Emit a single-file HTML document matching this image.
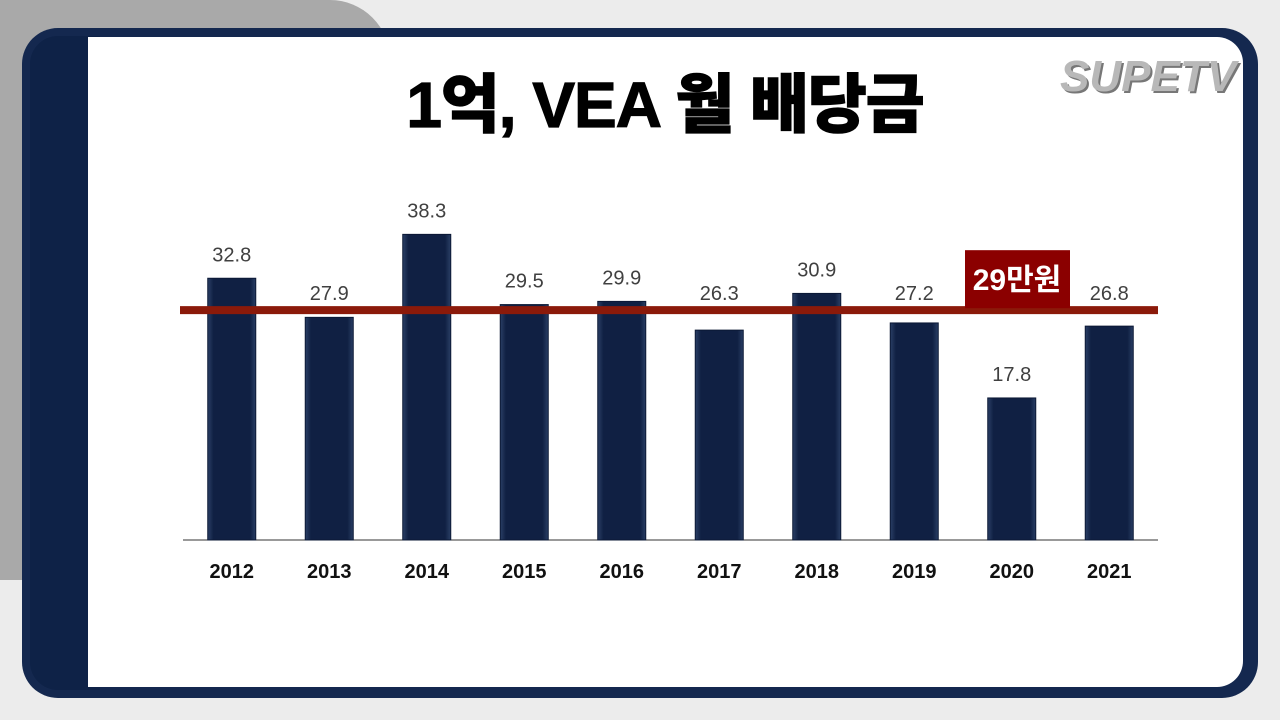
<!DOCTYPE html>
<html><head><meta charset="utf-8"><style>
body{margin:0;width:1280px;height:720px;overflow:hidden;background:#ececec;font-family:"Liberation Sans","Noto Sans CJK KR",sans-serif;position:relative}
.bgshape{position:absolute;left:0;top:0;width:390px;height:580px;background:#a9a9a9;border-top-right-radius:60px}
.card{position:absolute;left:22px;top:28px;width:1236px;height:670px;background:#14284f;border-radius:36px}
.strip{position:absolute;left:30px;top:36px;width:70px;height:654px;background:#0e2247;border-radius:28px 0 0 28px}
.inner{position:absolute;left:88px;top:37px;width:1155px;height:650px;background:#fff;border-radius:0 26px 26px 0}
.title{position:absolute;left:0;width:1280px;top:54px;text-align:center;font-size:64px;font-weight:900;color:#000;padding-left:50px;box-sizing:border-box;letter-spacing:-1px;-webkit-text-stroke:1.2px #000}
.logo{position:absolute;left:1060px;top:52px;font-size:44px;font-weight:bold;font-style:italic;color:#b8b8b8;text-shadow:2px 2px 0 #777}
</style></head><body>
<div class="bgshape"></div>
<div class="card"></div>
<div class="strip"></div>
<div class="inner"></div>
<div class="title">1억, VEA 월 배당금</div>
<div class="logo">SUPETV</div>
<svg id="chart" width="1280" height="720" style="position:absolute;left:0;top:0"></svg>
<script>
const categories=["2012","2013","2014","2015","2016","2017","2018","2019","2020","2021"];
const values=[32.8,27.9,38.3,29.5,29.9,26.3,30.9,27.2,17.8,26.8];
const refValue=28.8;
const refLabel="29만원";
const svg=document.getElementById('chart');
const NS="http://www.w3.org/2000/svg";
const x0=183,x1=1158,base=540,scale=7.98;
const step=(x1-x0)/categories.length;
const xc=i=>x0+step*(i+0.5);
const y=v=>base-v*scale;
const ry=y(refValue);
function mk(t,a){const e=document.createElementNS(NS,t);for(const k in a)e.setAttribute(k,a[k]);svg.appendChild(e);return e;}
const defs=mk('defs',{});
defs.innerHTML='<linearGradient id="bg" x1="0" x2="1"><stop offset="0" stop-color="#2a3f66"/><stop offset="0.12" stop-color="#102043"/><stop offset="0.88" stop-color="#102043"/><stop offset="1" stop-color="#2a3f66"/></linearGradient>';
const ax=mk('line',{x1:x0,x2:x1,y1:base,y2:base,stroke:'#333','stroke-width':1});


categories.forEach((c,i)=>{
  const r=mk('rect',{x:xc(i)-24,y:y(values[i]),width:48,height:values[i]*scale,fill:'url(#bg)',stroke:'#0b1835','stroke-width':1});
  
  
  let ly=y(values[i])-17;
  if(ly>ry-10&&ly<ry+35)ly=ry-10;
  const v=mk('text',{x:xc(i),y:ly,'text-anchor':'middle','font-size':20,fill:'#404040'});
  v.textContent=values[i].toFixed(1);
  
  
  const t=mk('text',{x:xc(i),y:578,'text-anchor':'middle','font-size':20,'font-weight':'bold',fill:'#111'});
  t.textContent=c;
  
  
});
const rl=mk('line',{x1:180,x2:1158,y1:ry,y2:ry,stroke:'#8b1a0a','stroke-width':8});


const bx=mk('rect',{x:965,y:ry-60,width:105,height:58,fill:'#8b0000'});


const bt=mk('text',{x:1017,y:ry-20,'text-anchor':'middle','font-size':30,fill:'#fff','font-weight':'bold'});
bt.textContent=refLabel;


</script>
</body></html>
